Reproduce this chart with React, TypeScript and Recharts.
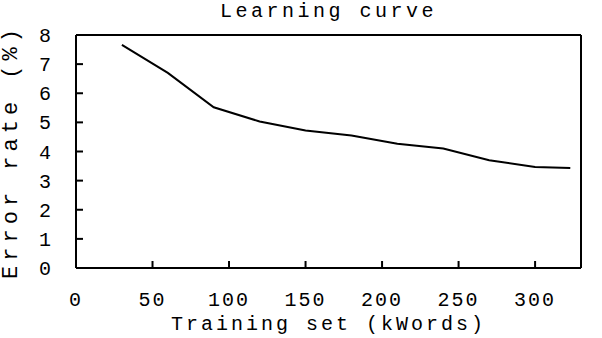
import { Label, Line, LineChart, XAxis, YAxis } from 'recharts';

const trainingSize = [30, 60, 90, 120, 150, 180, 210, 240, 270, 300, 323];
const errorRate = [7.66, 6.7, 5.52, 5.03, 4.72, 4.55, 4.27, 4.1, 3.7, 3.47, 3.43];
const xTicks = [0, 50, 100, 150, 200, 250, 300];
const yTicks = [0, 1, 2, 3, 4, 5, 6, 7, 8];

const data = trainingSize.map((size, i) => ({ size, error: errorRate[i] }));

const font = '"Liberation Mono", "DejaVu Sans Mono", monospace';
const tickStyle = { fontFamily: font, fontSize: 20, fill: '#000', letterSpacing: 2 };

const YTitle = ({ viewBox }: any) => {
  const cx = 11;
  const cy = viewBox.y + viewBox.height / 2;
  return (
    <text
      x={cx}
      y={cy}
      transform={`rotate(-90 ${cx} ${cy})`}
      textAnchor="middle"
      dominantBaseline="central"
      fontFamily={font}
      fontSize={22}
      letterSpacing={5}
      fill="#000"
    >
      Error rate (%)
    </text>
  );
};

const App = () => {
  return (
    <div style={{ position: 'absolute', left: 0, top: 0, background: '#fff' }}>
      <LineChart
        width={602}
        height={338}
        data={data}
        margin={{ top: 34, right: 20, bottom: 8, left: 16 }}
      >
        <XAxis
          dataKey="size"
          type="number"
          domain={[0, 330]}
          ticks={xTicks}
          height={62}
          stroke="#000"
          strokeWidth={2}
          tickSize={-7}
          tickMargin={31}
          tick={tickStyle}
          interval={0}
        >
          <Label
            value="Training set (kWords)"
            position="insideBottom"
            offset={0}
            style={{ fontFamily: font, fontSize: 20, fill: '#000', letterSpacing: 3 }}
          />
        </XAxis>
        <XAxis
          xAxisId="top"
          orientation="top"
          dataKey="size"
          type="number"
          domain={[0, 330]}
          ticks={xTicks}
          height={1}
          stroke="#000"
          strokeWidth={2}
          tickSize={-7}
          tick={false}
          interval={0}
        >
          <Label
            value="Learning curve"
            position="top"
            offset={17}
            style={{ fontFamily: font, fontSize: 20, fill: '#000', letterSpacing: 3.5 }}
          />
        </XAxis>
        <YAxis
          domain={[0, 8]}
          ticks={yTicks}
          width={60}
          stroke="#000"
          strokeWidth={2}
          tickSize={-7}
          tickMargin={30}
          tick={tickStyle}
          interval={0}
        >
          <Label content={YTitle} />
        </YAxis>
        <YAxis
          yAxisId="right"
          orientation="right"
          domain={[0, 8]}
          ticks={yTicks}
          width={1}
          stroke="#000"
          strokeWidth={2}
          tickSize={-7}
          tick={false}
          interval={0}
        />
        <Line
          dataKey="error"
          stroke="#000"
          strokeWidth={2}
          dot={false}
          type="linear"
          isAnimationActive={false}
        />
      </LineChart>
    </div>
  );
};

export default App;
